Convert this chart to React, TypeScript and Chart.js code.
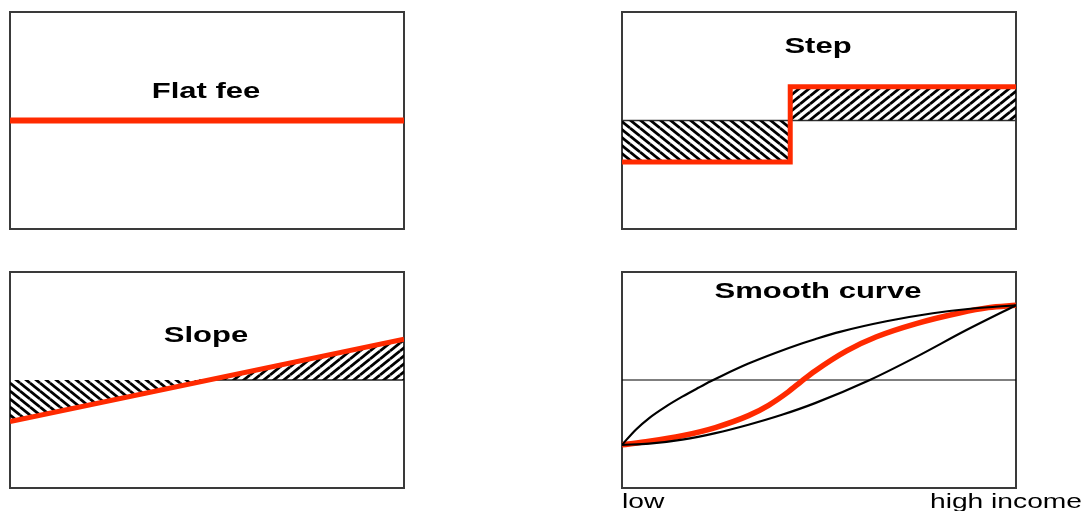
import React, { useEffect, useRef } from "react";
import { Chart, registerables } from "chart.js";

Chart.register(...registerables);

// ---------- data (x: 0 = low income, 100 = high income; y: 0..100, 50 = reference level) ----------
const panelTitles = ["Flat fee", "Step", "Slope", "Smooth curve"];
const axisLabels = ["low", "high income"];

const referenceLevel = 50;

const flatX = [0, 100];
const flatY = [50, 50];

const stepX = [0, 42.7, 100];
const stepY = [30.9, 65.5, 65.5];

const slopeX = [0, 100];
const slopeY = [30.8, 68.9];
const slopeBaseX = [48, 100];

const smoothUpperX = [0, 3.5, 6.9, 11.1, 15.3, 19.5, 22.5, 25.4, 32.1, 38.9, 45.6, 49, 55.3, 67.1, 78.9, 89, 100];
const smoothUpperY = [20, 27, 32.4, 37.7, 42.3, 46.5, 49.4, 52, 57.6, 62.5, 66.9, 68.9, 72.3, 77.2, 80.9, 83.1, 84.6];

const smoothLowerX = [0, 6.9, 15.3, 23.7, 32.1, 40.6, 49, 62.9, 74.7, 87.3, 100];
const smoothLowerY = [20, 20.5, 22.4, 25.4, 29.3, 33.9, 39.3, 50, 60.7, 73, 84.6];

const smoothRedX = [0, 6.9, 15.3, 23.7, 32.1, 37.2, 42.2, 45.6, 49, 57, 64.6, 74.7, 85.6, 93, 100];
const smoothRedY = [20, 21.6, 24.2, 28, 33.5, 38.3, 44.5, 49.5, 54.2, 63.5, 70, 76.1, 81, 83.5, 84.6];

// ---------- styling ----------
const RED = "#ff2a00";
const FRAME = "#3a3a3a";
const TITLE_FONT = "bold 22px 'Liberation Sans', Arial, sans-serif";
const LABEL_FONT = "20px 'Liberation Sans', Arial, sans-serif";
const STRETCH = 1.41;

const pts = (xs: number[], ys: number[]) => xs.map((x, i) => ({ x, y: ys[i] }));
const level = (xs: number[]) => xs.map((x) => ({ x, y: referenceLevel }));

function makeHatch(dir: "slash" | "back"): CanvasPattern | string {
  const w = 10;
  const h = 8;
  const c = document.createElement("canvas");
  c.width = w;
  c.height = h;
  const g = c.getContext("2d");
  if (!g) return "#000";
  g.strokeStyle = "#000";
  g.lineWidth = 2.8;
  for (const dx of [-w, 0, w]) {
    for (const dy of [-h, 0, h]) {
      g.beginPath();
      if (dir === "slash") {
        g.moveTo(dx, h + dy);
        g.lineTo(w + dx, dy);
      } else {
        g.moveTo(dx, dy);
        g.lineTo(w + dx, h + dy);
      }
      g.stroke();
    }
  }
  const p = g.createPattern(c, "repeat");
  return p || "#000";
}

type TextItem = { text: string; font: string; anchor: "left" | "center" | "right"; align: CanvasTextAlign; dx: number; dy: number };

function makeDecor(texts: TextItem[]) {
  return {
    id: "panelDecor",
    beforeDatasetsDraw(chart: any) {
      const { ctx, chartArea: a } = chart;
      ctx.save();
      ctx.strokeStyle = FRAME;
      ctx.lineWidth = 2;
      ctx.strokeRect(a.left, a.top, a.right - a.left, a.bottom - a.top);
      ctx.restore();
    },
    afterDraw(chart: any) {
      const { ctx, chartArea: a } = chart;
      ctx.save();
      ctx.fillStyle = "#000";
      ctx.textBaseline = "alphabetic";
      for (const t of texts) {
        ctx.font = t.font;
        ctx.textAlign = t.align;
        const x =
          t.anchor === "left" ? a.left + t.dx : t.anchor === "right" ? a.right + t.dx : (a.left + a.right) / 2 + t.dx;
        const y = a.top + t.dy;
        ctx.save();
        ctx.translate(x, y);
        ctx.scale(STRETCH, 1);
        ctx.fillText(t.text, 0, 0);
        ctx.restore();
      }
      ctx.restore();
    },
  };
}

function baseOptions(padding: { left: number; top: number; right: number; bottom: number }) {
  return {
    responsive: false,
    animation: false as const,
    devicePixelRatio: 1,
    layout: { padding },
    events: [] as any[],
    elements: { point: { radius: 0, hoverRadius: 0 } },
    plugins: { legend: { display: false }, tooltip: { enabled: false }, title: { display: false } },
    scales: {
      x: { type: "linear" as const, min: 0, max: 100, display: false },
      y: { type: "linear" as const, min: 0, max: 100, display: false },
    },
  };
}

type PanelProps = { left: number; top: number; width: number; height: number; build: () => any };

function Panel({ left, top, width, height, build }: PanelProps) {
  const ref = useRef<HTMLCanvasElement | null>(null);
  useEffect(() => {
    if (!ref.current) return;
    const chart = new Chart(ref.current, build());
    return () => chart.destroy();
  }, []);
  return (
    <canvas
      ref={ref}
      width={width}
      height={height}
      style={{ position: "absolute", left, top, width, height, display: "block" }}
    />
  );
}

const topPad = { left: 10, top: 12, right: 16, bottom: 16 };
const topPadR = { left: 22, top: 12, right: 72, bottom: 16 };
const botPad = { left: 10, top: 17, right: 16, bottom: 23 };
const botPadR = { left: 22, top: 17, right: 72, bottom: 23 };

function buildFlat() {
  return {
    type: "line",
    data: {
      datasets: [{ data: pts(flatX, flatY), borderColor: RED, borderWidth: 6, fill: false }],
    },
    options: baseOptions(topPad),
    plugins: [
      makeDecor([{ text: panelTitles[0], font: TITLE_FONT, anchor: "center", align: "center", dx: -1, dy: 86 }]),
    ],
  };
}

function buildStep() {
  return {
    type: "line",
    data: {
      datasets: [
        {
          data: pts(stepX, stepY),
          stepped: "before",
          borderColor: RED,
          borderWidth: 5,
          borderJoinStyle: "miter",
          fill: { target: { value: referenceLevel }, above: makeHatch("slash"), below: makeHatch("back") },
        },
        { data: level([0, 100]), borderColor: "#333", borderWidth: 1.5, fill: false },
      ],
    },
    options: baseOptions(topPadR),
    plugins: [
      makeDecor([{ text: panelTitles[1], font: TITLE_FONT, anchor: "center", align: "center", dx: -1, dy: 41 }]),
    ],
  };
}

function buildSlope() {
  return {
    type: "line",
    data: {
      datasets: [
        {
          data: pts(slopeX, slopeY),
          borderColor: RED,
          borderWidth: 5,
          fill: { target: { value: referenceLevel }, above: makeHatch("slash"), below: makeHatch("back") },
        },
        { data: level(slopeBaseX), borderColor: "#222", borderWidth: 1.5, fill: false },
      ],
    },
    options: baseOptions(botPad),
    plugins: [
      makeDecor([{ text: panelTitles[2], font: TITLE_FONT, anchor: "center", align: "center", dx: -1, dy: 70 }]),
    ],
  };
}

function buildSmooth() {
  return {
    type: "line",
    data: {
      datasets: [
        { data: pts(smoothUpperX, smoothUpperY), borderColor: "#000", borderWidth: 2.2, cubicInterpolationMode: "monotone", fill: false },
        { data: pts(smoothLowerX, smoothLowerY), borderColor: "#000", borderWidth: 2.2, cubicInterpolationMode: "monotone", fill: false },
        { data: pts(smoothRedX, smoothRedY), borderColor: RED, borderWidth: 5.5, cubicInterpolationMode: "monotone", fill: false },
        { data: level([0, 100]), borderColor: "#000", borderWidth: 1.2, fill: false },
      ],
    },
    options: baseOptions(botPadR),
    plugins: [
      makeDecor([
        { text: panelTitles[3], font: TITLE_FONT, anchor: "center", align: "center", dx: -1, dy: 25.5 },
        { text: axisLabels[0], font: LABEL_FONT, anchor: "left", align: "left", dx: 0, dy: 236 },
        { text: axisLabels[1], font: LABEL_FONT, anchor: "right", align: "right", dx: 66, dy: 236 },
      ]),
    ],
  };
}

export default function App() {
  return (
    <div style={{ position: "fixed", left: 0, top: 0, width: 1088, height: 511, background: "#fff", overflow: "hidden" }}>
      <Panel left={0} top={0} width={420} height={245} build={buildFlat} />
      <Panel left={600} top={0} width={488} height={245} build={buildStep} />
      <Panel left={0} top={255} width={420} height={256} build={buildSlope} />
      <Panel left={600} top={255} width={488} height={256} build={buildSmooth} />
    </div>
  );
}
